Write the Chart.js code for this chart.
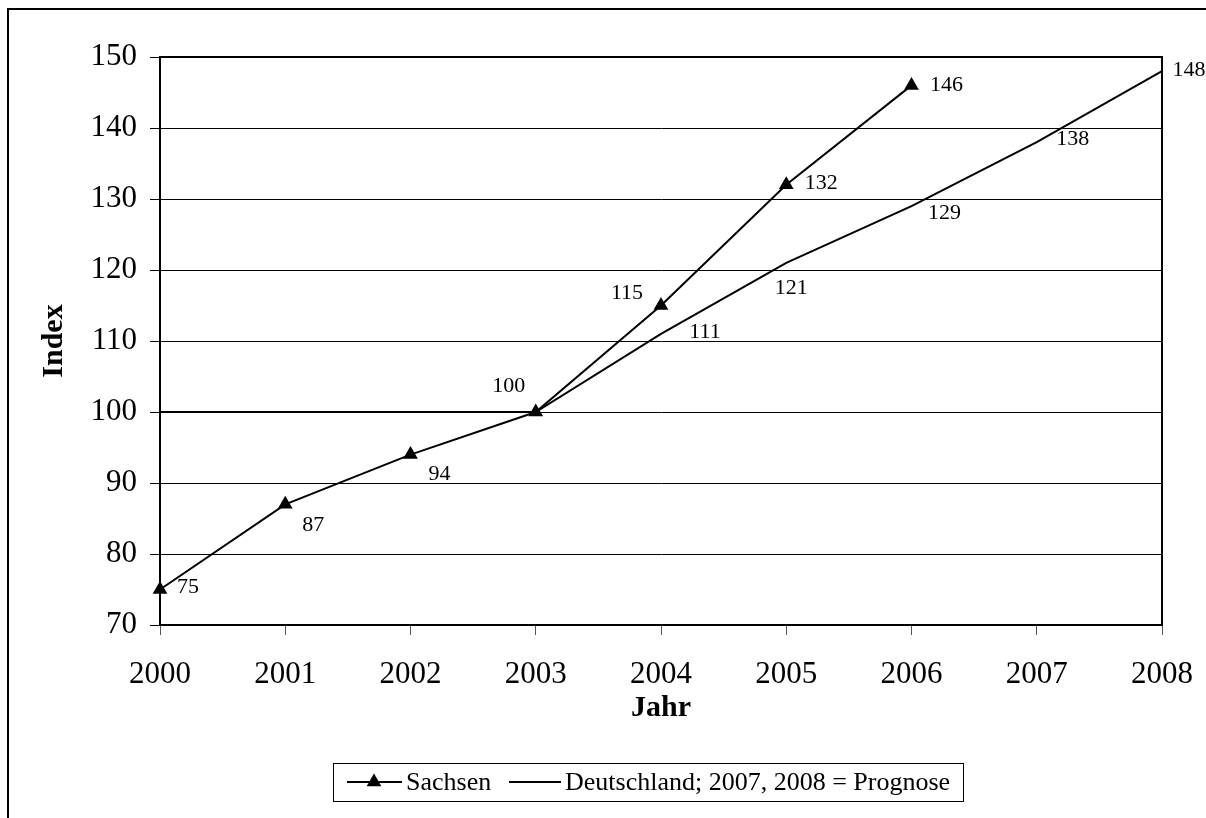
<!DOCTYPE html>
<html>
<head>
<meta charset="utf-8">
<script src="https://cdn.jsdelivr.net/npm/chart.js@4.4.1/dist/chart.umd.min.js"></script>
<style>
  html, body { margin: 0; padding: 0; background: #fff; }
  canvas { display: block; }
</style>
</head>
<body>
<canvas id="chart" width="1206" height="818"></canvas>
<script>
// Index values (2003 = 100)
const years = ['2000', '2001', '2002', '2003', '2004', '2005', '2006', '2007', '2008'];
const sachsen = [75, 87, 94, 100, 115, 132, 146, null, null];
const deutschland = [100, 100, 100, 100, 111, 121, 129, 138, 148];
const deutschlandShowValue = [false, false, false, false, true, true, true, true, true];
const yMin = 70;
const yMax = 150;
const yStep = 10;
const seriesNames = ['Sachsen', 'Deutschland; 2007, 2008 = Prognose'];
const xTitle = 'Jahr';
const yTitle = 'Index';

// value label placement relative to each point (dx, dy in px)
const sachsenLabelShift = [[28, -2], [28, 21], [29, 20], [-27, -26], [-34, -12], [35, -2], [35, 0], null, null];
const deutschlandLabelShift = [null, null, null, null, [44, -2], [5, 25], [33, 7], [36, -3], [27, -1]];

const SERIF = "'Liberation Serif', 'Times New Roman', serif";
Chart.defaults.font.family = SERIF;
Chart.defaults.color = '#000';

function drawTriangle(ctx, x, y, r) {
  ctx.beginPath();
  ctx.moveTo(x, y - r);
  ctx.lineTo(x + r * 0.866, y + r * 0.5);
  ctx.lineTo(x - r * 0.866, y + r * 0.5);
  ctx.closePath();
  ctx.fill();
}

const framePlugin = {
  id: 'frame',
  beforeDraw(chart) {
    const ctx = chart.ctx;
    ctx.save();
    ctx.fillStyle = '#fff';
    ctx.fillRect(0, 0, chart.width, chart.height);
    ctx.strokeStyle = '#000';
    ctx.lineWidth = 2;
    ctx.strokeRect(8, 9, chart.width + 20, chart.height + 20);
    ctx.restore();
  },
  beforeDatasetsDraw(chart) {
    const { ctx, chartArea: a } = chart;
    ctx.save();
    ctx.strokeStyle = '#000';
    ctx.lineWidth = 2;
    ctx.strokeRect(a.left, a.top, a.right - a.left, a.bottom - a.top);
    ctx.restore();
  },
  afterDraw(chart) {
    const { ctx, chartArea: a } = chart;
    ctx.save();
    ctx.fillStyle = '#000';

    // value labels
    ctx.font = '22px ' + SERIF;
    ctx.textAlign = 'center';
    ctx.textBaseline = 'middle';
    const shifts = [sachsenLabelShift, deutschlandLabelShift];
    chart.data.datasets.forEach((ds, di) => {
      const meta = chart.getDatasetMeta(di);
      ds.data.forEach((v, i) => {
        const s = shifts[di][i];
        if (v == null || !s) return;
        if (di === 1 && !deutschlandShowValue[i]) return;
        const pt = meta.data[i];
        ctx.fillText(String(v), pt.x + s[0], pt.y + s[1]);
      });
    });

    // axis titles
    ctx.font = 'bold 30px ' + SERIF;
    ctx.fillText(xTitle, (a.left + a.right) / 2, 708);
    ctx.save();
    ctx.translate(54, (a.top + a.bottom) / 2);
    ctx.rotate(-Math.PI / 2);
    ctx.fillText(yTitle, 0, 0);
    ctx.restore();

    // legend
    const bx = 333, by = 763, bw = 630, bh = 38;
    const cy = by + bh / 2;
    ctx.strokeStyle = '#000';
    ctx.lineWidth = 1;
    ctx.strokeRect(bx + 0.5, by + 0.5, bw, bh);
    ctx.lineWidth = 2;
    ctx.beginPath();
    ctx.moveTo(347, cy); ctx.lineTo(402, cy);
    ctx.moveTo(509, cy); ctx.lineTo(561, cy);
    ctx.stroke();
    drawTriangle(ctx, 374, cy, 8.5);
    ctx.font = '26px ' + SERIF;
    ctx.textAlign = 'left';
    ctx.fillText(seriesNames[0], 406, cy + 1);
    ctx.fillText(seriesNames[1], 565, cy + 1);
    ctx.restore();
  }
};

new Chart(document.getElementById('chart'), {
  type: 'line',
  data: {
    labels: years,
    datasets: [
      {
        label: seriesNames[0],
        data: sachsen,
        borderColor: '#000',
        backgroundColor: '#000',
        borderWidth: 2,
        pointStyle: 'triangle',
        pointRadius: 8.5,
        pointBackgroundColor: '#000',
        pointBorderColor: '#000',
        pointBorderWidth: 0,
        tension: 0,
        clip: false,
        spanGaps: false
      },
      {
        label: seriesNames[1],
        data: deutschland,
        borderColor: '#000',
        backgroundColor: '#000',
        borderWidth: 2,
        pointRadius: 0,
        tension: 0,
        clip: false
      }
    ]
  },
  options: {
    responsive: false,
    animation: false,
    events: [],
    layout: { padding: { top: 57, right: 44, left: 0, bottom: 0 } },
    plugins: {
      legend: { display: false },
      tooltip: { enabled: false },
      title: { display: false }
    },
    scales: {
      x: {
        type: 'category',
        offset: false,
        grid: {
          drawOnChartArea: false,
          drawTicks: true,
          tickLength: 10,
          tickColor: '#555',
          tickWidth: 1
        },
        border: { color: '#000', width: 2 },
        ticks: {
          font: { size: 31 },
          color: '#000',
          padding: 21,
          maxRotation: 0,
          autoSkip: false
        },
        afterFit(s) {
          s.height = 193;
          s.paddingLeft = 0;
          s.paddingRight = 0;
        }
      },
      y: {
        min: yMin,
        max: yMax,
        grid: {
          color: '#000',
          lineWidth: 1,
          drawTicks: true,
          tickLength: 10,
          tickColor: '#000'
        },
        border: { color: '#000', width: 2 },
        ticks: {
          stepSize: yStep,
          font: { size: 31 },
          color: '#000',
          padding: 13
        },
        afterFit(s) {
          s.width = 160;
          s.paddingTop = 0;
          s.paddingBottom = 0;
        }
      }
    }
  },
  plugins: [framePlugin]
});
</script>
</body>
</html>
